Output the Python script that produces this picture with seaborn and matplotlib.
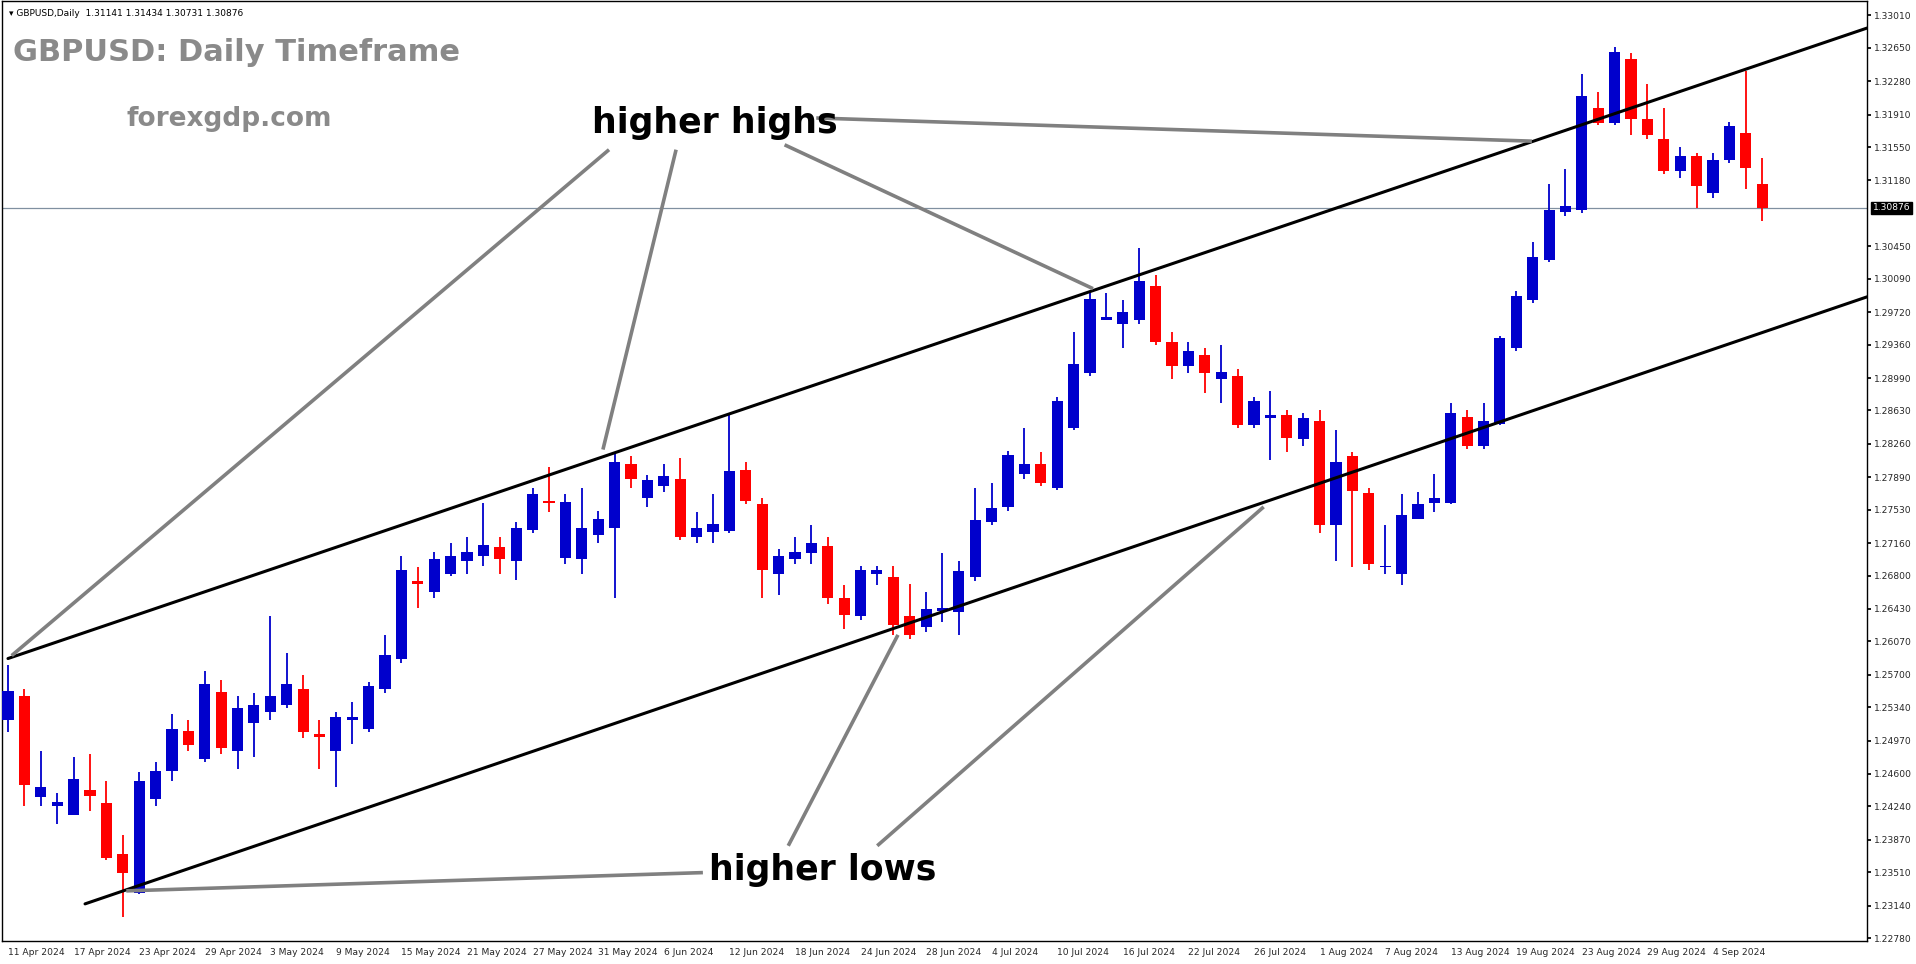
import matplotlib
matplotlib.use("Agg")
import matplotlib.pyplot as plt
import seaborn as sns
import pandas as pd
import numpy as np

dates = pd.bdate_range("2024-04-11", periods=108)
opens = [1.2520,1.2547,1.2435,1.2425,1.2415,1.2442,1.2428,1.2371,1.2328,1.2432,1.2463,1.2508,1.2477,1.2551,1.2486,1.2517,1.2529,1.2536,1.2554,1.2504,
         1.2486,1.2520,1.2510,1.2554,1.2587,1.2674,1.2662,1.2682,1.2696,1.2702,1.2712,1.2696,1.2731,1.2763,1.2700,1.2698,1.2725,1.2733,1.2804,1.2766,
         1.2779,1.2787,1.2723,1.2728,1.2729,1.2797,1.2759,1.2682,1.2698,1.2705,1.2713,1.2655,1.2635,1.2682,1.2678,1.2635,1.2623,1.2641,1.2640,1.2678,
         1.2739,1.2756,1.2793,1.2804,1.2777,1.2844,1.2905,1.2963,1.2959,1.2963,1.3001,1.2939,1.2912,1.2925,1.2898,1.2901,1.2847,1.2855,1.2858,1.2831,
         1.2851,1.2736,1.2813,1.2771,1.2689,1.2682,1.2743,1.2760,1.2760,1.2856,1.2824,1.2848,1.2932,1.2986,1.3030,1.3083,1.3085,1.3198,1.3182,1.3253,
         1.3186,1.3164,1.3128,1.3145,1.3104,1.3141,1.3171,1.31141]
highs = [1.2581,1.2554,1.2486,1.2439,1.2479,1.2482,1.2452,1.2392,1.2462,1.2473,1.2527,1.2520,1.2574,1.2564,1.2547,1.2550,1.2635,1.2594,1.2570,1.2520,
         1.2529,1.2540,1.2562,1.2614,1.2702,1.2689,1.2706,1.2716,1.2723,1.2760,1.2723,1.2739,1.2777,1.2800,1.2770,1.2777,1.2752,1.2817,1.2813,1.2791,
         1.2804,1.2810,1.2750,1.2770,1.2858,1.2806,1.2766,1.2709,1.2723,1.2736,1.2723,1.2669,1.2691,1.2691,1.2691,1.2671,1.2662,1.2705,1.2696,1.2777,
         1.2783,1.2818,1.2844,1.2817,1.2878,1.2950,1.2993,1.2993,1.2986,1.3043,1.3013,1.2950,1.2939,1.2932,1.2936,1.2909,1.2878,1.2885,1.2864,1.2860,
         1.2864,1.2841,1.2817,1.2777,1.2736,1.2770,1.2773,1.2793,1.2871,1.2864,1.2871,1.2946,1.2995,1.3050,1.3114,1.3131,1.3236,1.3216,1.3266,1.3259,
         1.3225,1.3198,1.3155,1.3148,1.3148,1.3183,1.3239,1.31434]
lows = [1.2506,1.2425,1.2425,1.2405,1.2415,1.2419,1.2365,1.2301,1.2327,1.2424,1.2452,1.2485,1.2473,1.2482,1.2466,1.2479,1.2520,1.2533,1.2500,1.2466,
        1.2446,1.2493,1.2506,1.2550,1.2583,1.2644,1.2655,1.2679,1.2682,1.2691,1.2682,1.2675,1.2727,1.2750,1.2693,1.2682,1.2716,1.2655,1.2777,1.2756,
        1.2773,1.2719,1.2716,1.2716,1.2727,1.2759,1.2655,1.2658,1.2693,1.2693,1.2648,1.2621,1.2631,1.2669,1.2614,1.2610,1.2617,1.2628,1.2614,1.2674,
        1.2736,1.2752,1.2787,1.2779,1.2775,1.2841,1.2901,1.2963,1.2932,1.2959,1.2936,1.2898,1.2905,1.2882,1.2871,1.2844,1.2844,1.2808,1.2817,1.2824,
        1.2727,1.2696,1.2689,1.2686,1.2682,1.2669,1.2743,1.2750,1.2759,1.2820,1.2820,1.2847,1.2929,1.2982,1.3028,1.3079,1.3082,1.3179,1.3179,1.3168,
        1.3164,1.3125,1.3121,1.3087,1.3099,1.3137,1.3108,1.30731]
closes = [1.2552,1.2448,1.2446,1.2429,1.2455,1.2436,1.2367,1.2350,1.2452,1.2463,1.2510,1.2492,1.2560,1.2489,1.2533,1.2536,1.2547,1.2560,1.2506,1.2501,
          1.2523,1.2523,1.2558,1.2592,1.2686,1.2671,1.2698,1.2702,1.2706,1.2714,1.2698,1.2733,1.2770,1.2760,1.2762,1.2733,1.2743,1.2806,1.2787,1.2786,
          1.2790,1.2723,1.2733,1.2737,1.2796,1.2763,1.2686,1.2702,1.2706,1.2716,1.2655,1.2636,1.2686,1.2686,1.2625,1.2614,1.2643,1.2644,1.2685,1.2742,
          1.2755,1.2814,1.2804,1.2783,1.2874,1.2914,1.2987,1.2967,1.2972,1.3006,1.2939,1.2912,1.2929,1.2905,1.2906,1.2847,1.2873,1.2858,1.2833,1.2855,
          1.2736,1.2806,1.2774,1.2693,1.2691,1.2747,1.2759,1.2766,1.2860,1.2824,1.2851,1.2943,1.2990,1.3033,1.3085,1.3090,1.3212,1.3182,1.3260,1.3186,
          1.3168,1.3128,1.3145,1.3112,1.3141,1.3178,1.3132,1.30876]
ytick_values = [1.33010,1.32650,1.32280,1.31910,1.31550,1.31180,1.30450,1.30090,1.29720,1.29360,1.28990,1.28630,
                1.28260,1.27890,1.27530,1.27160,1.26800,1.26430,1.26070,1.25700,1.25340,1.24970,1.24600,1.24240,
                1.23870,1.23510,1.23140,1.22780]
last_price = 1.30876
upper_channel = [(0, 1.2588), (113.4, 1.3287)]
lower_channel = [(4.7, 1.2316), (113.4, 1.2989)]

sns.set_theme(style="white")
plt.rcParams['font.family'] = ['DejaVu Sans']
fig = plt.figure(figsize=(19.16, 9.64), dpi=100)
ax = fig.add_axes([0.001, 0.024, 0.9735, 0.975])

df = pd.DataFrame({"date": dates, "o": opens, "h": highs, "l": lows, "c": closes})
df["i"] = np.arange(len(df))
up = df["c"] >= df["o"]
colors = np.where(up, "#0000CC", "#FF0000")
ax.vlines(df["i"], df["l"], df["h"], colors=colors, lw=1.3, zorder=3)
bottom = np.minimum(df["o"], df["c"])
height = np.maximum(np.abs(df["c"] - df["o"]), 0.00012)
ax.bar(df["i"], height, bottom=bottom, width=0.68, color=colors, edgecolor=colors, lw=0, zorder=4)

for line in (upper_channel, lower_channel):
    ax.plot([line[0][0], line[1][0]], [line[0][1], line[1][1]], color="black", lw=2.2, zorder=5)
ax.axhline(last_price, color="#8090A0", lw=0.9, zorder=1)

ax.set_xlim(-0.37, 113.4)
ax.set_ylim(1.2275, 1.3317)
ax.yaxis.tick_right()
ax.set_yticks(ytick_values)
ax.set_yticklabels([f"{v:.5f}" for v in ytick_values], fontsize=6.6)
ax.tick_params(axis="y", length=3, direction="out", color="black", pad=2)
xt = list(range(0, len(df), 4))
ax.set_xticks(xt)
ax.set_xticklabels([dates[i].strftime("%-d %b %Y") for i in xt], fontsize=6.6, ha="left")
ax.tick_params(axis="x", length=3, direction="out", color="black", pad=2)
for s in ax.spines.values():
    s.set_color("black"); s.set_linewidth(1)
ax.text(1.003, (last_price - 1.2275) / (1.3317 - 1.2275), f"{last_price:.5f}", transform=ax.transAxes,
        fontsize=6.6, color="white", va="center", ha="left",
        bbox=dict(boxstyle="square,pad=0.15", fc="black", ec="black"))

W, H = 1530.0, 771.0
def P(x, y):
    return (x / W, 1 - y / H)
gray = "#808080"
segs = [((498,122),(8,537)), ((553,122),(493,368)), ((642,118),(895,236)), ((668,96),(1255,115)),
        ((645,693),(735,520)), ((718,693),(1035,415)), ((575,715),(102,730))]
for a, b in segs:
    pa, pb = P(*a), P(*b)
    ax.plot([pa[0], pb[0]], [pa[1], pb[1]], color=gray, lw=2.6, transform=ax.transAxes, zorder=6,
            solid_capstyle="butt")

ax.text(*P(484, 100), "higher highs", transform=ax.transAxes, fontsize=25, fontweight="bold",
        va="center", ha="left", color="black", zorder=7)
ax.text(*P(580, 713), "higher lows", transform=ax.transAxes, fontsize=25, fontweight="bold",
        va="center", ha="left", color="black", zorder=7)
ax.text(*P(9, 42), "GBPUSD: Daily Timeframe", transform=ax.transAxes, fontsize=22, fontweight="bold",
        va="center", ha="left", color="#8A8A8A", zorder=7)
ax.text(*P(102, 97), "forexgdp.com", transform=ax.transAxes, fontsize=19, fontweight="bold",
        va="center", ha="left", color="#8A8A8A", zorder=7)
ax.text(*P(6, 10), "\u25BE GBPUSD,Daily  1.31141 1.31434 1.30731 1.30876", transform=ax.transAxes,
        fontsize=6.5, va="center", ha="left", color="black", zorder=7)

fig.savefig("out.png", dpi=100, facecolor="white")
